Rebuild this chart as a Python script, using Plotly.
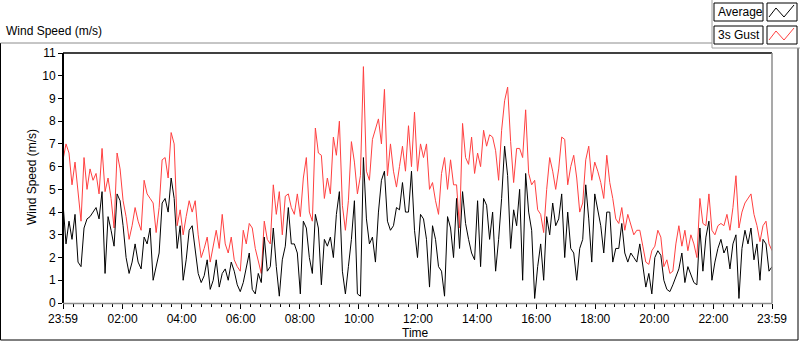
import numpy as np
import pandas as pd
import plotly.graph_objects as go

# ---- data (~6 minute resolution) ----
gust_3s = [
    6.3, 7.0, 6.6, 5.2, 6.2, 5.0, 3.6, 6.4, 5.0, 5.9, 5.4, 5.7, 4.8, 6.8, 4.9, 5.5, 4.6, 3.3, 6.6, 5.9,
    4.5, 3.8, 2.8, 3.4, 4.2, 3.6, 3.2, 5.4, 4.8, 4.6, 4.4, 3.1, 4.2, 6.3, 6.4, 5.5, 7.5, 7.0, 3.4, 4.1,
    3.0, 3.8, 4.5, 4.0, 4.5, 3.0, 2.0, 2.4, 2.9, 1.8, 2.5, 3.2, 2.4, 3.9, 2.6, 2.2, 2.9, 1.9, 1.6, 1.4,
    3.2, 2.6, 3.5, 3.3, 2.4, 1.9, 1.3, 3.6, 2.8, 2.6, 5.2, 3.9, 4.9, 3.0, 4.7, 4.8, 4.2, 3.9, 4.8, 3.8,
    5.5, 6.4, 4.0, 3.6, 7.7, 6.6, 6.5, 4.6, 5.5, 4.8, 7.3, 6.5, 8.0, 4.3, 3.2, 4.5, 7.1, 6.2, 4.8, 5.6,
    10.4, 5.8, 5.4, 7.2, 7.7, 8.1, 7.0, 9.4, 5.6, 7.0, 5.8, 5.1, 6.0, 6.9, 5.8, 7.8, 6.0, 8.4, 5.8, 7.0,
    6.4, 7.0, 5.0, 5.3, 4.5, 3.9, 5.7, 6.4, 5.0, 6.3, 5.2, 5.2, 3.3, 7.9, 6.4, 6.1, 7.3, 5.7, 6.6, 6.0,
    7.6, 6.9, 7.4, 7.3, 6.7, 5.4, 7.6, 8.9, 9.5, 7.1, 5.3, 6.8, 6.8, 6.4, 8.5, 5.7, 5.2, 5.4, 4.1, 3.9,
    3.1, 5.0, 6.4, 5.8, 5.0, 5.9, 7.3, 7.2, 5.2, 6.0, 6.5, 5.5, 4.0, 4.4, 6.3, 6.9, 5.4, 6.2, 5.8, 5.3,
    4.6, 6.5, 5.3, 4.6, 3.7, 3.5, 4.2, 3.2, 3.9, 3.4, 3.0, 3.2, 3.2, 2.5, 1.8, 1.7, 2.3, 2.5, 3.2, 2.9,
    1.6, 1.9, 1.3, 1.4, 2.6, 3.4, 2.5, 3.2, 2.3, 3.0, 2.6, 2.0, 4.6, 3.5, 3.4, 4.8, 3.2, 3.0, 3.4, 3.5,
    3.4, 3.9, 3.2, 4.2, 5.6, 3.3, 4.0, 4.4, 4.6, 4.8, 3.9, 3.4, 2.7, 3.4, 3.6, 2.6, 2.3,
]
average = [
    4.4, 2.6, 3.6, 2.8, 3.9, 1.8, 1.6, 3.3, 3.7, 3.8, 4.0, 4.2, 3.7, 4.9, 1.3, 3.8, 3.2, 2.5, 4.8, 4.5,
    3.4, 2.0, 1.3, 1.8, 2.6, 1.8, 1.5, 2.9, 2.6, 3.3, 1.0, 1.6, 2.2, 4.4, 4.6, 4.0, 5.5, 4.6, 2.4, 3.4,
    1.0, 1.9, 3.2, 3.4, 2.2, 1.3, 0.9, 1.2, 1.9, 0.6, 1.0, 1.9, 0.7, 1.3, 1.5, 1.0, 1.8, 1.4, 0.8, 0.5,
    0.9, 1.6, 2.2, 0.6, 0.4, 1.3, 0.9, 2.9, 1.4, 1.6, 3.3, 1.6, 0.3, 1.9, 2.5, 4.2, 2.6, 2.6, 2.2, 0.4,
    3.6, 3.3, 2.0, 1.3, 3.9, 3.3, 0.8, 2.8, 2.5, 2.9, 2.0, 3.9, 4.9, 1.4, 0.4, 1.6, 2.8, 4.5, 0.4, 0.3,
    6.4, 3.7, 2.6, 2.9, 1.8, 4.0, 5.4, 5.8, 3.6, 3.2, 3.4, 4.2, 4.1, 5.3, 4.0, 4.0, 5.8, 3.2, 2.0, 3.9,
    3.7, 2.8, 0.7, 3.4, 2.8, 1.6, 1.4, 0.3, 3.8, 3.3, 2.0, 4.6, 2.4, 4.9, 3.5, 2.8, 2.2, 1.9, 4.5, 1.6,
    4.6, 4.3, 2.8, 4.0, 1.4, 2.8, 4.6, 6.9, 5.6, 2.4, 4.1, 3.4, 5.0, 1.0, 5.7, 4.0, 3.2, 0.2, 1.6, 2.6,
    1.0, 3.8, 3.0, 4.4, 3.4, 3.7, 4.8, 2.0, 4.0, 2.4, 2.2, 1.0, 2.4, 2.8, 5.2, 3.7, 1.8, 4.8, 4.0, 3.4,
    2.2, 4.0, 4.0, 1.8, 2.4, 2.4, 3.5, 2.2, 1.8, 2.2, 2.0, 1.8, 2.6, 1.6, 0.7, 1.3, 0.4, 2.0, 2.3, 2.1,
    1.0, 0.6, 0.5, 0.8, 1.2, 1.5, 2.2, 0.9, 1.6, 1.2, 0.9, 0.8, 3.3, 1.4, 2.9, 3.6, 1.0, 1.8, 2.4, 2.8,
    2.2, 2.5, 1.5, 2.6, 3.0, 0.2, 2.4, 3.2, 2.6, 3.3, 1.9, 2.6, 1.0, 2.8, 2.6, 1.4, 1.6,
]
tick_labels = ["23:59", "02:00", "04:00", "06:00", "08:00", "10:00", "12:00",
               "14:00", "16:00", "18:00", "20:00", "22:00", "23:59"]
y_ticks = list(range(0, 12))

start = pd.Timestamp("2024-01-01 23:59")
end = start + pd.Timedelta(minutes=1440)
times = pd.date_range(start, end, periods=len(average))
tick_vals = [start] + [pd.Timestamp("2024-01-02") + pd.Timedelta(hours=h) for h in range(2, 24, 2)] + [end]

FONT = "Liberation Sans"
L, R, T, B = 63, 772, 53, 303
W, H = 800, 342


def px(x):
    return (x - L) / (R - L)


def py(y):
    return (B - y) / (B - T)


fig = go.Figure()
fig.add_trace(go.Scatter(x=times, y=gust_3s, mode="lines", name="3s Gust",
                         line=dict(color="#FF4040", width=1), showlegend=False))
fig.add_trace(go.Scatter(x=times, y=average, mode="lines", name="Average",
                         line=dict(color="#000000", width=1), showlegend=False))

shapes = []


def line(x0, y0, x1, y1, color, width=1):
    shapes.append(dict(type="line", xref="paper", yref="paper",
                       x0=px(x0), y0=py(y0), x1=px(x1), y1=py(y1),
                       line=dict(color=color, width=width)))


# plot frame (sunken look)
line(L, T, L, B, "#000000", 2)
line(L, T, R, T, "#000000", 1.5)
line(R, T, R, B + 0.5, "#8c8c8c", 1.5)
line(L, B + 0.5, R, B + 0.5, "#8c8c8c", 1.5)
# outer frame
line(0.5, 43, 0.5, 340, "#000000", 1)
line(0.5, 340, 798, 340, "#000000", 1)
line(798, 48, 798, 340, "#000000", 1)
line(0.5, 43, 712, 43, "#8c8c8c", 1)
# legend panel
line(712, 0, 712, 48, "#a0a0a0", 1)
line(712, 48, 800, 48, "#a0a0a0", 1)

annotations = []
for k, (lab, col) in enumerate([("Average", "#000000"), ("3s Gust", "#FF4040")]):
    y0 = 3 + 23 * k
    y1 = y0 + 18
    shapes.append(dict(type="rect", xref="paper", yref="paper", x0=px(714), x1=px(763),
                       y0=py(y1), y1=py(y0), line=dict(color="#000000", width=1),
                       fillcolor="white"))
    shapes.append(dict(type="rect", xref="paper", yref="paper", x0=px(767), x1=px(797),
                       y0=py(y1), y1=py(y0), line=dict(color="#000000", width=1),
                       fillcolor="white"))
    pts = [(769, y0 + 14), (776, y0 + 5), (784, y0 + 14), (794, y0 + 2)]
    path = "M " + " L ".join(f"{px(a):.5f},{py(b):.5f}" for a, b in pts)
    shapes.append(dict(type="path", xref="paper", yref="paper", path=path,
                       line=dict(color=col, width=1)))
    annotations.append(dict(text=lab, xref="paper", yref="paper", x=px(716), y=py((y0 + y1) / 2),
                            xanchor="left", yanchor="middle", showarrow=False,
                            font=dict(family=FONT, size=12, color="#000000")))

annotations.append(dict(text="Wind Speed (m/s)", xref="paper", yref="paper", x=px(4), y=py(31),
                        xanchor="left", yanchor="middle", showarrow=False,
                        font=dict(family=FONT, size=12, color="#000000")))
annotations.append(dict(text="Wind Speed (m/s)", xref="paper", yref="paper", x=px(32), y=py(177),
                        xanchor="center", yanchor="middle", textangle=-90, showarrow=False,
                        font=dict(family=FONT, size=12, color="#000000")))
annotations.append(dict(text="Time", xref="paper", yref="paper", x=px(415), y=py(333),
                        xanchor="center", yanchor="middle", showarrow=False,
                        font=dict(family=FONT, size=12, color="#000000")))

fig.update_layout(
    width=W, height=H,
    margin=dict(l=L, r=W - R, t=T, b=H - B),
    paper_bgcolor="white", plot_bgcolor="white",
    font=dict(family=FONT, size=12, color="#000000"),
    shapes=shapes, annotations=annotations,
    xaxis=dict(range=[start, end], tickvals=tick_vals, ticktext=tick_labels,
               ticks="outside", ticklen=5, tickcolor="#000000", tickwidth=1,
               showgrid=False, zeroline=False, showline=False,
               tickfont=dict(family=FONT, size=12),
               minor=dict(ticks="outside", ticklen=3, tickcolor="#000000",
                          dtick=20 * 60 * 1000, tick0="2024-01-02 00:00", showgrid=False)),
    yaxis=dict(range=[0, 11], tickvals=y_ticks, ticks="outside", ticklen=4,
               tickcolor="#000000", showgrid=False, zeroline=False, showline=False,
               tickfont=dict(family=FONT, size=12)),
)

fig.write_html("out.html", config={"displayModeBar": False},
               post_script="document.body.style.margin='0';")
